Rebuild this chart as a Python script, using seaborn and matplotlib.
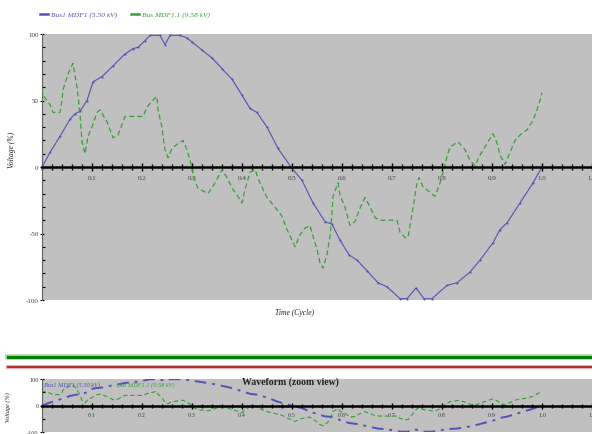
import matplotlib
matplotlib.use("Agg")
import matplotlib.pyplot as plt
from matplotlib.lines import Line2D
from matplotlib.ticker import MultipleLocator
import seaborn as sns
import pandas as pd

# blue trace: Bus1 MDF1
blue_t = [0, 0.016, 0.036, 0.056, 0.066, 0.076, 0.09, 0.102, 0.12, 0.142, 0.166, 0.182,
          0.192, 0.206, 0.216, 0.236, 0.246, 0.256, 0.276, 0.29, 0.30, 0.32, 0.34, 0.36,
          0.38, 0.40, 0.416, 0.43, 0.45, 0.472, 0.498, 0.52, 0.542, 0.566, 0.58, 0.596,
          0.614, 0.63, 0.65, 0.672, 0.69, 0.716, 0.73, 0.748, 0.764, 0.78, 0.81, 0.83,
          0.856, 0.876, 0.902, 0.916, 0.93, 0.956, 0.982, 1.0]
blue_v = [0, 11, 23, 36, 40, 42, 50, 64, 68, 76, 85, 89, 90, 95, 99, 99, 92, 99, 99, 97,
          94, 88, 82, 74, 66, 54, 44, 41, 30, 14, 0, -10, -27, -41, -43, -55, -66, -70,
          -78, -87, -90, -99, -99, -91, -99, -99, -89, -87, -79, -70, -57, -47, -42, -27,
          -12, 0]

# green trace: Bus MDF1.1
green_t = [0.0, 0.002, 0.016, 0.022, 0.036, 0.040, 0.042, 0.052, 0.062, 0.070, 0.076,
           0.080, 0.086, 0.092, 0.100, 0.110, 0.116, 0.130, 0.142, 0.152, 0.166, 0.176,
           0.202, 0.210, 0.226, 0.230, 0.232, 0.240, 0.242, 0.246, 0.252, 0.260, 0.270,
           0.282, 0.290, 0.296, 0.300, 0.302, 0.312, 0.332, 0.346, 0.360, 0.370, 0.382,
           0.390, 0.400, 0.406, 0.416, 0.426, 0.436, 0.450, 0.470, 0.480, 0.490, 0.500,
           0.506, 0.516, 0.526, 0.536, 0.542, 0.550, 0.556, 0.562, 0.570, 0.576, 0.580,
           0.582, 0.592, 0.596, 0.606, 0.616, 0.626, 0.636, 0.646, 0.656, 0.666, 0.676,
           0.710, 0.716, 0.726, 0.732, 0.736, 0.742, 0.746, 0.750, 0.754, 0.762, 0.776,
           0.786, 0.796, 0.802, 0.810, 0.816, 0.832, 0.846, 0.856, 0.866, 0.876, 0.886,
           0.892, 0.902, 0.910, 0.916, 0.926, 0.936, 0.946, 0.956, 0.970, 0.982, 0.990,
           0.996, 1.0]
green_v = [59, 54, 47, 41, 41, 50, 58, 70, 78, 60, 40, 19, 10, 23, 30, 41, 43, 34, 22, 24,
           38, 38, 38, 45, 52, 53, 43, 30, 23, 13, 7, 14, 17, 20, 13, 5, 0, -7, -16, -20,
           -12, -2, -8, -17, -21, -27, -17, -4, -2, -12, -23, -32, -37, -47, -55, -60, -51,
           -46, -44, -52, -62, -72, -76, -66, -52, -35, -22, -12, -21, -30, -44, -41, -31,
           -23, -30, -38, -40, -40, -49, -53, -53, -44, -31, -21, -12, -8, -15, -19, -22,
           -12, -4, 8, 15, 19, 13, 5, 1, 9, 15, 19, 25, 18, 9, 2, 11, 20, 24, 28, 35, 43,
           50, 56]

blue_name = "Bus1 MDF1 (5.50 kV)"
green_name = "Bus MDF1.1 (9.58 kV)"
x_ticks = [0.1, 0.2, 0.3, 0.4, 0.5, 0.6, 0.7, 0.8, 0.9, 1.0, 1.1]
x_labels = ["0.1", "0.2", "0.3", "0.4", "0.5", "0.6", "0.7", "0.8", "0.9", "1.0", "1.1"]
y_ticks = [-100, -50, 0, 50, 100]

blue_df = pd.DataFrame({"t": blue_t, "v": blue_v})
green_df = pd.DataFrame({"t": green_t, "v": green_v})

BLUE = "#5252b8"
GREEN = "#34a034"
BG = "#c0c0c0"
SERIF = ["Liberation Serif", "DejaVu Serif"]

fig = plt.figure(figsize=(5.92, 4.35), dpi=100)


def style_axes(ax, fs):
    ax.set_facecolor(BG)
    ax.set_xlim(0, 1.1)
    ax.set_ylim(-100, 100)
    for s in ["top", "right"]:
        ax.spines[s].set_visible(False)
    ax.spines["bottom"].set_position(("data", 0))
    ax.spines["bottom"].set_linewidth(1.8)
    ax.spines["bottom"].set_color("black")
    ax.spines["bottom"].set_zorder(5)
    ax.spines["left"].set_color("#606060")
    ax.spines["left"].set_linewidth(0.8)
    ax.set_xticks(x_ticks)
    ax.set_xticklabels(x_labels, family=SERIF, fontsize=fs, color="#404040")
    ax.xaxis.set_minor_locator(MultipleLocator(0.02))
    ax.set_yticks(y_ticks)
    ax.set_yticklabels([str(v) for v in y_ticks], family=SERIF, fontsize=fs, color="#404040")
    ax.tick_params(axis="x", which="major", direction="inout", length=6, width=1, pad=3)
    ax.tick_params(axis="x", which="minor", direction="inout", length=4, width=1)
    ax.tick_params(axis="y", which="major", direction="inout", length=3, width=0.8, pad=1)
    ax.tick_params(axis="y", which="minor", direction="in", length=2, width=0.8)
    ax.set_xlabel("")
    ax.set_ylabel("")
    ax.grid(False)


# main view
ax = fig.add_axes([42 / 592, 134 / 435, 550 / 592, 266 / 435])
sns.lineplot(data=blue_df, x="t", y="v", ax=ax, color=BLUE, linewidth=0.8,
             marker="o", markersize=1.5, markeredgewidth=0, sort=False, zorder=3)
sns.lineplot(data=green_df, x="t", y="v", ax=ax, color=GREEN, linewidth=0.9,
             linestyle=(0, (4, 2.5)), sort=False, zorder=3)
style_axes(ax, 5)
ax.yaxis.set_minor_locator(MultipleLocator(10))

fig.text(295 / 592, 1 - 313 / 435, "Time (Cycle)", ha="center", va="center",
         fontsize=5.5, style="italic", family=SERIF, color="#202020")
fig.text(12 / 592, 1 - 150 / 435, "Voltage (%)", ha="center", va="center",
         rotation=90, fontsize=5.5, style="italic", family=SERIF, color="#202020")

# legend at top
fig.add_artist(Line2D([40 / 592, 48 / 592], [1 - 15 / 435] * 2, color=BLUE, lw=1.8))
fig.text(51 / 592, 1 - 15 / 435, blue_name, ha="left", va="center", fontsize=5.3,
         style="italic", family=SERIF, color=BLUE)
fig.add_artist(Line2D([131 / 592, 139 / 592], [1 - 15 / 435] * 2, color=GREEN, lw=1.8))
fig.text(142 / 592, 1 - 15 / 435, green_name, ha="left", va="center", fontsize=5.3,
         style="italic", family=SERIF, color=GREEN)

# separator bars
fig.add_artist(Line2D([8 / 592, 1], [1 - 358 / 435] * 2, color="#a8d8a8", lw=4.0))
fig.add_artist(Line2D([8 / 592, 1], [1 - 358 / 435] * 2, color="#008000", lw=2.2))
fig.add_artist(Line2D([8 / 592, 1], [1 - 368 / 435] * 2, color="#e8b0b0", lw=3.0))
fig.add_artist(Line2D([8 / 592, 1], [1 - 368 / 435] * 2, color="#a83030", lw=1.4))

# zoom view
ax2 = fig.add_axes([42 / 592, 2 / 435, 550 / 592, 53 / 435])
sns.lineplot(data=blue_df, x="t", y="v", ax=ax2, color=BLUE, linewidth=1.4,
             linestyle=(0, (6, 3, 1.5, 3)), sort=False, zorder=3)
sns.lineplot(data=green_df, x="t", y="v", ax=ax2, color=GREEN, linewidth=0.8,
             linestyle=(0, (4, 2.5)), sort=False, zorder=3)
style_axes(ax2, 4.5)
ax2.set_yticks([-100, 0, 100])
ax2.set_yticklabels(["-100", "0", "100"], family=SERIF, fontsize=4.5, color="#404040")
ax2.yaxis.set_minor_locator(MultipleLocator(50))
ax2.tick_params(axis="x", which="major", length=5, pad=2)
ax2.tick_params(axis="x", which="minor", length=3)

fig.text(290 / 592, 1 - 382 / 435, "Waveform (zoom view)", ha="center", va="center",
         fontsize=7, fontweight="bold", family=SERIF, color="#202020")
fig.text(44 / 592, 1 - 385 / 435, blue_name, ha="left", va="center", fontsize=4.5,
         style="italic", family=SERIF, color=BLUE)
fig.text(117 / 592, 1 - 385 / 435, green_name, ha="left", va="center", fontsize=4.5,
         style="italic", family=SERIF, color=GREEN)
fig.text(8 / 592, 1 - 407 / 435, "Voltage (%)", ha="center", va="center",
         rotation=90, fontsize=4.5, style="italic", family=SERIF, color="#202020")

fig.savefig("out.png", dpi=100)
